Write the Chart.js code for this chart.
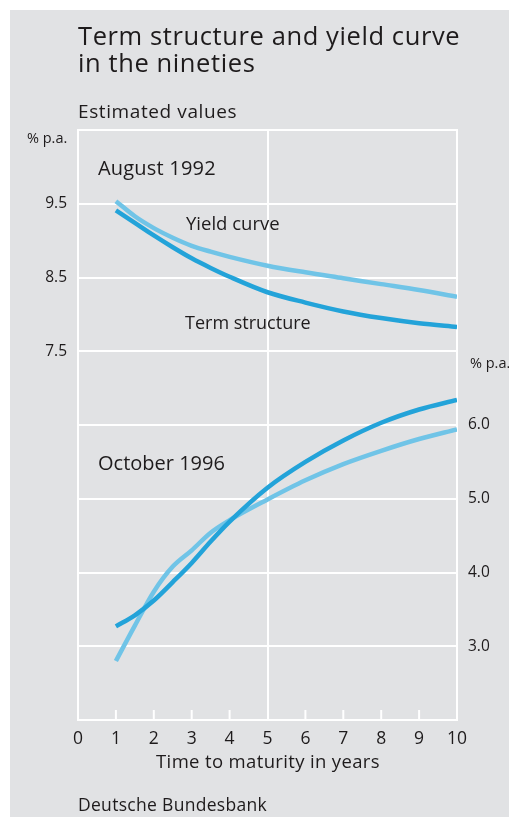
<!DOCTYPE html>
<html><head><meta charset="utf-8">
<script src="https://cdn.jsdelivr.net/npm/chart.js@4/dist/chart.umd.min.js"></script>
<style>
html,body{margin:0;padding:0;background:#fff;}
body{width:509px;height:817px;position:relative;overflow:hidden;font-family:"Open Sans",sans-serif;color:#1e1b1c;}
#panel{position:absolute;left:10px;top:10px;width:499px;height:807px;background:#e1e2e4;}
#c{position:absolute;left:0;top:0;width:509px;height:817px;}
.t{position:absolute;white-space:nowrap;line-height:1;}
</style></head>
<body>
<div id="panel"></div>
<canvas id="c" width="509" height="817"></canvas>
<div class="t" style="left:78px;top:22.5px;font-size:25.5px;letter-spacing:0.6px;">Term structure and yield curve</div>
<div class="t" style="left:78px;top:50px;font-size:25.5px;letter-spacing:0.6px;">in the nineties</div>
<div class="t" style="left:78px;top:102px;font-size:19px;letter-spacing:0.6px;">Estimated values</div>
<div class="t" style="left:27px;top:131px;font-size:14.5px;">% p.a.</div>
<div class="t" style="left:470px;top:356px;font-size:14.5px;">% p.a.</div>
<div class="t" style="left:98px;top:157.5px;font-size:20px;letter-spacing:0.2px;">August 1992</div>
<div class="t" style="left:186px;top:213.5px;font-size:18.5px;">Yield curve</div>
<div class="t" style="left:185px;top:313px;font-size:18px;">Term structure</div>
<div class="t" style="left:98px;top:452.5px;font-size:20px;">October 1996</div>
<div class="t" style="left:268px;top:751.5px;font-size:18.5px;letter-spacing:0.35px;transform:translateX(-50%);">Time to maturity in years</div>
<div class="t" style="left:78px;top:795.5px;font-size:17.5px;letter-spacing:0.3px;">Deutsche Bundesbank</div>
<script>
// ---- data ----
const maturities = [1, 1.5, 2, 2.5, 3, 3.5, 4, 5, 6, 7, 8, 9, 10];
const termStructure1992 = [9.41, 9.24, 9.07, 8.91, 8.76, 8.63, 8.51, 8.30, 8.16, 8.04, 7.95, 7.88, 7.83];
const yieldCurve1992   = [9.535, 9.33, 9.17, 9.04, 8.93, 8.85, 8.78, 8.66, 8.57, 8.49, 8.41, 8.33, 8.24];
const termStructure1996 = [3.27, 3.42, 3.62, 3.87, 4.13, 4.42, 4.69, 5.15, 5.50, 5.79, 6.03, 6.21, 6.34];
const yieldCurve1996   = [2.80, 3.28, 3.74, 4.08, 4.30, 4.54, 4.71, 4.99, 5.25, 5.47, 5.65, 5.81, 5.94];
const xTicks = [0, 1, 2, 3, 4, 5, 6, 7, 8, 9, 10];
const leftTickLabels = [7.5, 8.5, 9.5];
const rightTickLabels = [3.0, 4.0, 5.0, 6.0];

const TERM = '#23a3d9';
const YIELD = '#70c4e7';
const TXT = '#1e1b1c';
const pts = (ys) => maturities.map((x, i) => ({x: x, y: ys[i]}));

const innerTicks = {
  id: 'innerTicks',
  beforeDatasetsDraw(chart) {
    const ctx = chart.ctx, xs = chart.scales.x, a = chart.chartArea;
    ctx.save();
    ctx.strokeStyle = '#ffffff';
    ctx.lineWidth = 2;
    xTicks.forEach(v => {
      if (v === 0 || v === 5 || v === 10) return;
      const px = xs.getPixelForValue(v);
      ctx.beginPath();
      ctx.moveTo(px, a.bottom);
      ctx.lineTo(px, a.bottom - 10);
      ctx.stroke();
    });
    ctx.restore();
  }
};

const ds = (label, data, color, axis) => ({
  label, data: pts(data), yAxisID: axis,
  borderColor: color, borderWidth: 4.5, pointRadius: 0,
  cubicInterpolationMode: 'monotone', fill: false, borderCapStyle: 'butt'
});

new Chart(document.getElementById('c'), {
  type: 'line',
  data: {
    datasets: [
      ds('Term structure 1996', termStructure1996, TERM, 'yR'),
      ds('Term structure 1992', termStructure1992, TERM, 'yL'),
      ds('Yield curve 1996', yieldCurve1996, YIELD, 'yR'),
      ds('Yield curve 1992', yieldCurve1992, YIELD, 'yL')
    ]
  },
  options: {
    responsive: false,
    animation: false,
    events: [],
    layout: {padding: {top: 130, left: 0, right: 0, bottom: 0}},
    plugins: {legend: {display: false}, tooltip: {enabled: false}},
    scales: {
      x: {
        type: 'linear', min: 0, max: 10,
        afterFit(s) { s.height = 97; },
        afterBuildTicks(s) { s.ticks = xTicks.map(v => ({value: v})); },
        grid: {
          drawTicks: false, lineWidth: 2,
          color: c => (c.tick && c.tick.value === 5) ? '#ffffff' : 'rgba(0,0,0,0)'
        },
        border: {display: true, color: '#ffffff', width: 2},
        ticks: {color: TXT, padding: 9, autoSkip: false, maxRotation: 0,
          font: {family: 'Open Sans', size: 17.5}}
      },
      yL: {
        type: 'linear', position: 'left', min: 2.5, max: 10.5,
        afterFit(s) { s.width = 78; },
        afterBuildTicks(s) {
          const t = []; for (let v = 2.5; v <= 10.5; v += 1) t.push({value: v}); s.ticks = t;
        },
        grid: {drawTicks: false, lineWidth: 2, color: '#ffffff'},
        border: {display: true, color: '#ffffff', width: 2},
        ticks: {color: TXT, padding: 11, autoSkip: false,
          font: {family: 'Open Sans', size: 15.5},
          callback: v => leftTickLabels.some(l => Math.abs(l - v) < 1e-6) ? v.toFixed(1) : ''}
      },
      yR: {
        type: 'linear', position: 'right', min: 2, max: 10,
        afterFit(s) { s.width = 52; },
        afterBuildTicks(s) {
          const t = []; for (let v = 2; v <= 10; v += 1) t.push({value: v}); s.ticks = t;
        },
        grid: {display: true, drawOnChartArea: false, drawTicks: false},
        border: {display: true, color: '#ffffff', width: 2},
        ticks: {color: TXT, padding: 11, autoSkip: false,
          font: {family: 'Open Sans', size: 15.5},
          callback: v => rightTickLabels.some(l => Math.abs(l - v) < 1e-6) ? v.toFixed(1) : ''}
      }
    }
  },
  plugins: [innerTicks]
});
</script>
</body></html>
